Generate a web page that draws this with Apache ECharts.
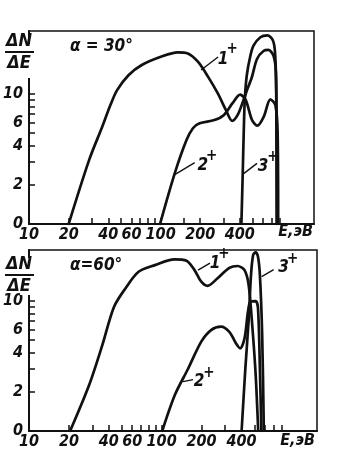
<!DOCTYPE html>
<html>
<head>
<meta charset="utf-8">
<script src="https://cdn.jsdelivr.net/npm/echarts@6/dist/echarts.min.js"></script>
<style>
  html, body { margin: 0; padding: 0; background: #fff; }
  #chart { width: 338px; height: 471px; }
</style>
</head>
<body>
<div id="chart"></div>
<script>
// Energy spectra dN/dE of 1+, 2+, 3+ ions, log-log, for two emission angles.
const E_LABELS = [10, 20, 40, 60, 100, 200, 400];
const Y_LABELS = [1, 2, 4, 6, 10];           // bottom of the log axis is printed as "0"
const Y_TICKS = [2, 3, 4, 5, 6, 7, 8, 9, 10];
const E_TICKS_30 = [20, 30, 40, 50, 60, 70, 80, 90, 100, 150, 200, 300, 400, 500, 600, 700, 800];
const E_TICKS_60 = [20, 30, 40, 50, 60, 70, 80, 90, 100, 200, 300, 400, 500, 600, 700, 800];

// alpha = 30 deg  ([E, eV], dN/dE)
const ion1_30 = [[20,1],[28.6,3.1],[36,5.6],[41.6,8.25],[46.7,10.7],[57.2,14],[71.9,16.7],[101.6,19.4],[135,20.9],[161,20.5],[192,17.7],[229,13.6],[272,10.1],[314,7.5],[350,6.2],[385,6.9],[420,8.6],[455,10.8],[494,13.5],[540,18.6],[605,21.4],[660,21.8],[722,19.6],[750,15],[758,6],[762,1]];
const ion2_30 = [[99,1],[128,2.45],[157,4.4],[176,5.45],[198,5.95],[256,6.3],[303,6.9],[352,8.5],[402,9.9],[443,9],[495,6.3],[543,5.7],[608,6.7],[682,9.1],[745,8.2],[775,5],[782,1]];
const ion3_30 = [[411,1],[420,2.3],[428,5],[436,9],[452,14],[480,19.5],[508,23.5],[573,27.3],[648,28.2],[711,26],[740,21],[757,10.4],[768,1]];

// alpha = 60 deg
const ion1_60 = [[20.4,1],[28.4,2.26],[35.7,4.58],[43.7,9],[53.3,12.5],[67,16.8],[89,18.9],[125,20.9],[154,20.4],[177,17.3],[199,14.1],[222,13.1],[263,14.9],[324,18],[374,18.6],[422,17.3],[453,13.3],[484,6.2],[512,2.7],[535,1]];
const ion2_60 = [[101,1],[126,1.9],[158,3],[199,4.87],[236,5.98],[280,6.35],[324,5.8],[364,4.72],[391,4.33],[422,5.17],[448,8.3],[468,9.9],[512,10],[533,8.8],[551,3],[565,1]];
const ion3_60 = [[401,1],[428,3.03],[454,7.35],[472,15.8],[490,22.6],[512,23.7],[533,21.9],[551,15.8],[573,5.5],[590,1]];

const FONT = "'Liberation Sans Narrow', 'DejaVu Sans Condensed', 'Liberation Sans', sans-serif";
const INK = '#111';

function xAxis(gridIndex, max, ticks) {
  return {
    type: 'log', logBase: 10, gridIndex, min: 10, max,
    axisLine: { show: true, onZero: false, lineStyle: { color: INK, width: 2 } },
    axisTick: { show: true, inside: true, length: 6, customValues: ticks, lineStyle: { color: INK, width: 1.5 } },
    minorTick: { show: false },
    splitLine: { show: false },
    axisLabel: {
      customValues: E_LABELS, margin: 3,
      formatter: v => String(Math.round(v)),
      color: INK, fontFamily: FONT, fontStyle: 'italic', fontWeight: 'bold', fontSize: 16
    }
  };
}
function yAxis(gridIndex, max) {
  return {
    type: 'log', logBase: 10, gridIndex, min: 1, max,
    axisLine: { show: true, onZero: false, lineStyle: { color: INK, width: 2 } },
    axisTick: { show: true, inside: true, length: 6, customValues: Y_TICKS, lineStyle: { color: INK, width: 1.5 } },
    minorTick: { show: false },
    splitLine: { show: false },
    axisLabel: {
      customValues: Y_LABELS, margin: 6,
      formatter: v => (Math.round(v) === 1 ? '0' : String(Math.round(v))),
      color: INK, fontFamily: FONT, fontStyle: 'italic', fontWeight: 'bold', fontSize: 16
    }
  };
}
function curve(data, xi) {
  return {
    type: 'line', data, xAxisIndex: xi, yAxisIndex: xi,
    showSymbol: false, smooth: 0.3, animation: false,
    lineStyle: { color: INK, width: 2.7, cap: 'round', join: 'round' }
  };
}

const chart = echarts.init(document.getElementById('chart'), null, { renderer: 'canvas' });
chart.setOption({
  animation: false,
  backgroundColor: '#fff',
  grid: [
    { left: 26, top: 31, width: 288, height: 193, show: true, borderColor: INK, borderWidth: 1.5 },
    { left: 26, top: 250, width: 291, height: 181, show: true, borderColor: INK, borderWidth: 1.5 }
  ],
  xAxis: [xAxis(0, 1464, E_TICKS_30), xAxis(1, 1485, E_TICKS_60)],
  yAxis: [yAxis(0, 30.5), yAxis(1, 24.7)],
  series: [
    curve(ion1_30, 0), curve(ion2_30, 0), curve(ion3_30, 0),
    curve(ion1_60, 1), curve(ion2_60, 1), curve(ion3_60, 1)
  ]
});

// Curve tags: anchor on the curve in data units, leader and text offsets in px.
const curveTags = [
  { grid: 0, at: [203, 15.3], end: [17, -13], label: '1', textAt: [22, -10], plusAt: [31, -21] },
  { grid: 0, at: [128, 2.4],  end: [20, -12], label: '2', textAt: [28, -9],  plusAt: [37, -18] },
  { grid: 0, at: [430, 2.45], end: [13, -10], label: '3', textAt: [19, -7],  plusAt: [29, -16] },
  { grid: 1, at: [188, 17.3], end: [12, -7],  label: '1', textAt: [17, -7],  plusAt: [26, -16] },
  { grid: 1, at: [145, 2.4],  end: [10, -2],  label: '2', textAt: [16, 0],   plusAt: [26, -8] },
  { grid: 1, at: [568, 15.4], end: [12, -7],  label: '3', textAt: [22, -9],  plusAt: [31, -18] }
];

const textStyle = (extra) => Object.assign({
  fill: INK, fontFamily: FONT, fontStyle: 'italic', fontWeight: 'bold'
}, extra);

const graphics = [];
curveTags.forEach(t => {
  const p = chart.convertToPixel({ gridIndex: t.grid }, t.at);
  graphics.push({
    type: 'line', silent: true, z: 10,
    shape: { x1: p[0], y1: p[1], x2: p[0] + t.end[0], y2: p[1] + t.end[1] },
    style: { stroke: INK, lineWidth: 1.4 }
  });
  graphics.push({
    type: 'text', z: 10, x: p[0] + t.textAt[0], y: p[1] + t.textAt[1],
    style: textStyle({ text: t.label, fontSize: 17, align: 'center', verticalAlign: 'middle' })
  });
  graphics.push({
    type: 'text', z: 10, x: p[0] + t.plusAt[0], y: p[1] + t.plusAt[1],
    style: textStyle({ text: '+', fontSize: 15, align: 'center', verticalAlign: 'middle' })
  });
});

// Panel titles and axis captions
function yCaption(cy, gapTop, gapBottom) {
  graphics.push({ type: 'rect', z: 5, shape: { x: 20, y: gapTop, width: 10, height: gapBottom - gapTop }, style: { fill: '#fff' } });
  graphics.push({ type: 'text', z: 10, x: 19, y: cy - 11, style: textStyle({ text: 'ΔN', fontSize: 18, align: 'center', verticalAlign: 'middle' }) });
  graphics.push({ type: 'line', z: 10, shape: { x1: 5, y1: cy, x2: 34, y2: cy }, style: { stroke: INK, lineWidth: 2 } });
  graphics.push({ type: 'text', z: 10, x: 19, y: cy + 11, style: textStyle({ text: 'ΔE', fontSize: 18, align: 'center', verticalAlign: 'middle' }) });
}
yCaption(52, 44, 78);
yCaption(275, 258, 295);

graphics.push({ type: 'text', z: 10, x: 70, y: 47, style: textStyle({ text: 'α = 30°', fontSize: 17, align: 'left', verticalAlign: 'middle' }) });
graphics.push({ type: 'text', z: 10, x: 70, y: 266, style: textStyle({ text: 'α=60°', fontSize: 17, align: 'left', verticalAlign: 'middle' }) });
graphics.push({ type: 'text', z: 10, x: 313, y: 232, style: textStyle({ text: 'E,эВ', fontSize: 16, align: 'right', verticalAlign: 'middle' }) });
graphics.push({ type: 'text', z: 10, x: 315, y: 441, style: textStyle({ text: 'E,эВ', fontSize: 16, align: 'right', verticalAlign: 'middle' }) });

chart.setOption({ graphic: graphics });
</script>
</body>
</html>
